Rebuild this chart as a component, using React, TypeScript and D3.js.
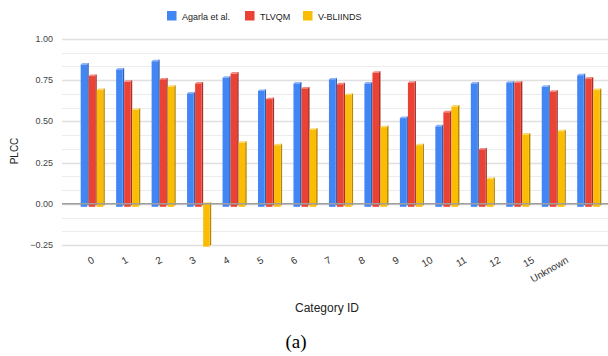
import React, { useEffect, useRef } from "react";
import * as d3 from "d3";

const categories = ["0", "1", "2", "3", "4", "5", "6", "7", "8", "9", "10", "11", "12", "15", "Unknown"];
const seriesNames = ["Agarla et al.", "TLVQM", "V-BLIINDS"];
const agarla = [0.845, 0.815, 0.865, 0.67, 0.765, 0.685, 0.73, 0.755, 0.73, 0.52, 0.47, 0.73, 0.735, 0.71, 0.78];
const tlvqm = [0.775, 0.74, 0.755, 0.73, 0.79, 0.635, 0.7, 0.725, 0.795, 0.735, 0.555, 0.33, 0.735, 0.68, 0.76];
const vbliinds = [0.69, 0.57, 0.71, -0.26, 0.37, 0.355, 0.45, 0.66, 0.465, 0.355, 0.59, 0.15, 0.42, 0.44, 0.69];
const yTicks = [-0.25, 0, 0.25, 0.5, 0.75, 1.0];

const colors = ["#4285F4", "#EA4335", "#FBBC04"];
const sideColors = ["#2f5fb0", "#a8302a", "#b58800"];
const topColors = ["#8fb5f8", "#f28b82", "#fdd86a"];

const App = () => {
  const ref = useRef<SVGSVGElement>(null);

  useEffect(() => {
    const W = 608;
    const H = 356;
    const svg = d3.select(ref.current);
    svg.selectAll("*").remove();

    const font = "'Liberation Sans', Arial, sans-serif";
    const x0 = d3.scaleBand().domain(categories).range([75, 607]).paddingInner(0.32).paddingOuter(0.16);
    const x1 = d3.scaleBand().domain(seriesNames).range([0, x0.bandwidth()]);
    const y = d3.scaleLinear().domain([-0.25, 1]).range([245, 39]);
    const labelX = d3.scalePoint().domain(categories).range([95, 569]);

    // gridlines (major + minor)
    const grid = d3.range(-0.25, 1.0001, 0.25 / 3);
    svg
      .append("g")
      .selectAll("line")
      .data(grid)
      .enter()
      .append("line")
      .attr("x1", 62)
      .attr("x2", W)
      .attr("y1", (d) => Math.round(y(d)) + 0.5)
      .attr("y2", (d) => Math.round(y(d)) + 0.5)
      .attr("stroke", (d, i) => (i % 3 === 0 ? "#e0e0e0" : "#ececec"))
      .attr("stroke-width", (d, i) => (i % 3 === 0 ? 1.6 : 1));

    // y tick labels
    svg
      .append("g")
      .selectAll("text")
      .data(yTicks)
      .enter()
      .append("text")
      .attr("x", 53)
      .attr("y", (d) => y(d) + 3)
      .attr("text-anchor", "end")
      .attr("font-family", font)
      .attr("font-size", 9)
      .attr("fill", "#444")
      .text((d) => d3.format(".2f")(d));

    const series = [agarla, tlvqm, vbliinds];
    const side = 1.5;
    const g = svg.append("g");
    series.forEach((vals, s) => {
      vals.forEach((v, i) => {
        const bx = (x0(categories[i]) as number) + (x1(seriesNames[s]) as number);
        const w = x1.bandwidth() - side;
        const top = v >= 0 ? y(v) : y(0);
        const bottom = v >= 0 ? y(0) + 3 : y(v);
        g.append("rect")
          .attr("x", bx + w)
          .attr("y", top - side)
          .attr("width", side)
          .attr("height", bottom - top)
          .attr("fill", sideColors[s]);
        g.append("path")
          .attr("d", `M${bx},${top}L${bx + side},${top - side}L${bx + w + side},${top - side}L${bx + w},${top}Z`)
          .attr("fill", topColors[s]);
        g.append("rect")
          .attr("x", bx)
          .attr("y", top)
          .attr("width", w)
          .attr("height", bottom - top)
          .attr("fill", colors[s]);
      });
    });

    // zero line
    svg
      .append("line")
      .attr("x1", 62)
      .attr("x2", W)
      .attr("y1", y(0))
      .attr("y2", y(0))
      .attr("stroke", "#9e9e9e")
      .attr("stroke-width", 1.6);

    // x tick labels
    svg
      .append("g")
      .selectAll("text")
      .data(categories)
      .enter()
      .append("text")
      .attr("transform", (d) => `translate(${labelX(d)},${262}) rotate(-30)`)
      .attr("text-anchor", "end")
      .attr("font-family", font)
      .attr("font-size", 10)
      .attr("fill", "#333")
      .text((d) => d);

    // axis titles
    svg
      .append("text")
      .attr("transform", `translate(18,151) rotate(-90)`)
      .attr("text-anchor", "middle")
      .attr("font-family", font)
      .attr("font-size", 10)
      .attr("fill", "#222")
      .text("PLCC");

    svg
      .append("text")
      .attr("x", 327)
      .attr("y", 312)
      .attr("text-anchor", "middle")
      .attr("font-family", font)
      .attr("font-size", 12)
      .attr("fill", "#222")
      .text("Category ID");

    svg
      .append("text")
      .attr("x", 296)
      .attr("y", 348)
      .attr("text-anchor", "middle")
      .attr("font-family", "'Liberation Serif', 'Times New Roman', serif")
      .attr("font-size", 19)
      .attr("fill", "#000")
      .text("(a)");

    // legend
    const legendX = [167, 245, 303];
    const lg = svg.append("g");
    seriesNames.forEach((name, s) => {
      lg.append("rect")
        .attr("x", legendX[s])
        .attr("y", 11)
        .attr("width", 9.5)
        .attr("height", 9.5)
        .attr("fill", colors[s]);
      lg.append("text")
        .attr("x", legendX[s] + 15)
        .attr("y", 19.5)
        .attr("font-family", font)
        .attr("font-size", 9)
        .attr("fill", "#222")
        .text(name);
    });
  }, []);

  return (
    <svg
      ref={ref}
      width="608"
      height="356"
      style={{ position: "absolute", left: 0, top: 0, background: "#fff" }}
    ></svg>
  );
};

export default App;
